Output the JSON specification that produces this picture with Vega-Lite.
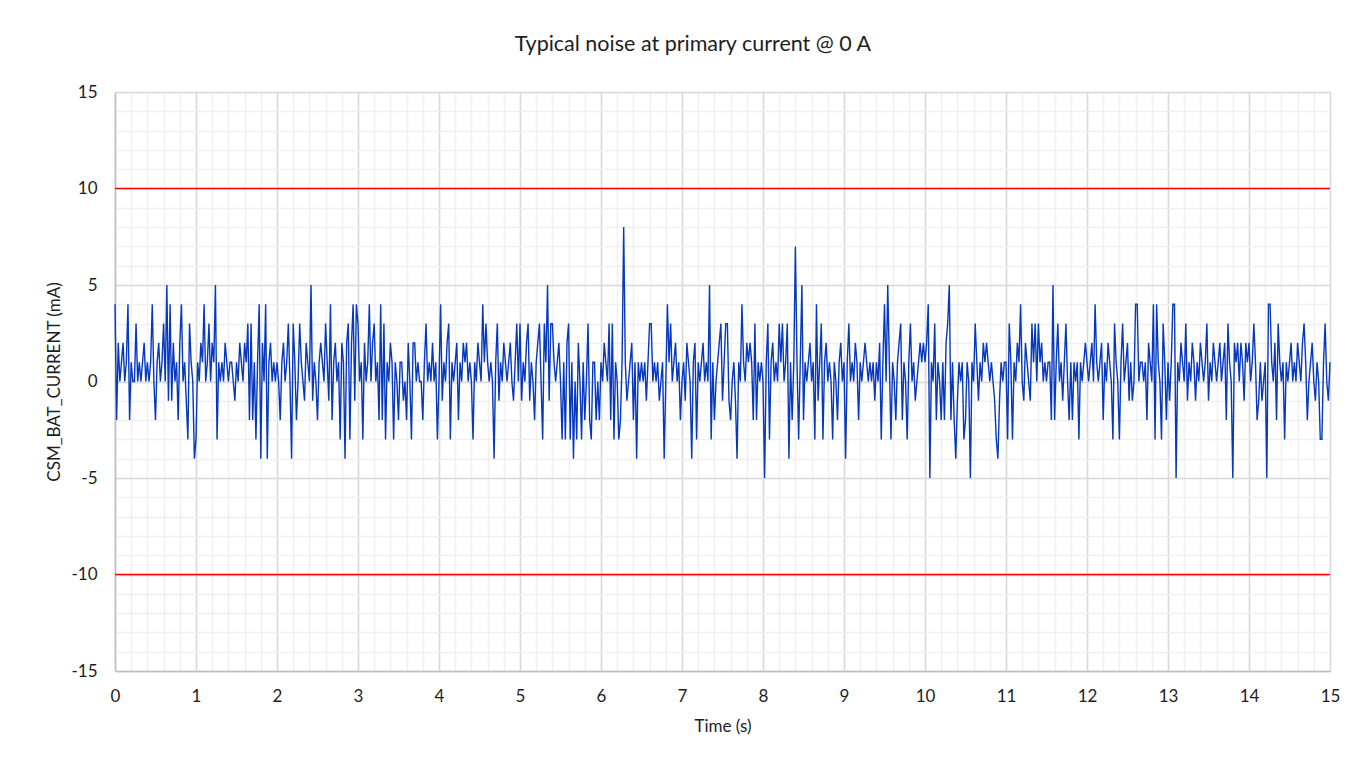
{
"$schema": "https://vega.github.io/schema/vega-lite/v6.json",
"width": 1215,
"height": 579,
"autosize": {"type": "none"},
"padding": {"left": 115, "top": 92, "right": 30, "bottom": 93},
"background": "white",
"config": {"view": {"stroke": null}, "font": "Lato"},
"title": {"text": "Typical noise at primary current @ 0 A", "fontSize": 21.5, "fontWeight": "normal", "color": "#1e1e1e", "anchor": "middle", "frame": "bounds", "baseline": "alphabetic", "offset": 11},
"data": {"values": [
{"t":0,"v":4},{"t":0.02,"v":-2},{"t":0.04,"v":2},{"t":0.06,"v":0},{"t":0.08,"v":1},{"t":0.1,"v":2},{"t":0.12,"v":0},{"t":0.14,"v":1},{"t":0.16,"v":4},{"t":0.18,"v":-2},
{"t":0.2,"v":1},{"t":0.22,"v":0},{"t":0.24,"v":0},{"t":0.26,"v":3},{"t":0.28,"v":0},{"t":0.3,"v":1},{"t":0.32,"v":0},{"t":0.34,"v":1},{"t":0.36,"v":2},{"t":0.38,"v":0},
{"t":0.4,"v":1},{"t":0.42,"v":0},{"t":0.44,"v":1},{"t":0.46,"v":4},{"t":0.48,"v":0},{"t":0.5,"v":-2},{"t":0.52,"v":1},{"t":0.54,"v":2},{"t":0.56,"v":0},{"t":0.58,"v":1},
{"t":0.6,"v":3},{"t":0.62,"v":0},{"t":0.64,"v":5},{"t":0.66,"v":-1},{"t":0.68,"v":4},{"t":0.7,"v":-1},{"t":0.72,"v":2},{"t":0.74,"v":0},{"t":0.76,"v":1},{"t":0.78,"v":-2},
{"t":0.8,"v":2},{"t":0.82,"v":4},{"t":0.84,"v":0},{"t":0.86,"v":1},{"t":0.88,"v":-1},{"t":0.9,"v":-3},{"t":0.92,"v":3},{"t":0.94,"v":1},{"t":0.96,"v":0},{"t":0.98,"v":-4},
{"t":1,"v":-3},{"t":1.02,"v":1},{"t":1.04,"v":0},{"t":1.06,"v":2},{"t":1.08,"v":1},{"t":1.1,"v":4},{"t":1.12,"v":0},{"t":1.14,"v":1},{"t":1.16,"v":3},{"t":1.18,"v":0},
{"t":1.2,"v":2},{"t":1.22,"v":1},{"t":1.24,"v":5},{"t":1.26,"v":-3},{"t":1.28,"v":1},{"t":1.3,"v":0},{"t":1.32,"v":1},{"t":1.34,"v":0},{"t":1.36,"v":2},{"t":1.38,"v":1},
{"t":1.4,"v":0},{"t":1.42,"v":1},{"t":1.44,"v":1},{"t":1.46,"v":0},{"t":1.48,"v":-1},{"t":1.5,"v":1},{"t":1.52,"v":0},{"t":1.54,"v":2},{"t":1.56,"v":1},{"t":1.58,"v":0},
{"t":1.6,"v":2},{"t":1.62,"v":1},{"t":1.64,"v":3},{"t":1.66,"v":-2},{"t":1.68,"v":3},{"t":1.7,"v":-2},{"t":1.72,"v":1},{"t":1.74,"v":-3},{"t":1.76,"v":1},{"t":1.78,"v":4},
{"t":1.8,"v":-4},{"t":1.82,"v":2},{"t":1.84,"v":0},{"t":1.86,"v":4},{"t":1.88,"v":-4},{"t":1.9,"v":1},{"t":1.92,"v":2},{"t":1.94,"v":0},{"t":1.96,"v":1},{"t":1.98,"v":0},
{"t":2,"v":1},{"t":2.02,"v":0},{"t":2.04,"v":-2},{"t":2.06,"v":1},{"t":2.08,"v":2},{"t":2.1,"v":0},{"t":2.12,"v":1},{"t":2.14,"v":3},{"t":2.16,"v":0},{"t":2.18,"v":-4},
{"t":2.2,"v":3},{"t":2.22,"v":1},{"t":2.24,"v":-2},{"t":2.26,"v":0},{"t":2.28,"v":3},{"t":2.3,"v":1},{"t":2.32,"v":0},{"t":2.34,"v":-1},{"t":2.36,"v":2},{"t":2.38,"v":1},
{"t":2.4,"v":0},{"t":2.42,"v":5},{"t":2.44,"v":-1},{"t":2.46,"v":1},{"t":2.48,"v":0},{"t":2.5,"v":-2},{"t":2.52,"v":1},{"t":2.54,"v":2},{"t":2.56,"v":1},{"t":2.58,"v":0},
{"t":2.6,"v":3},{"t":2.62,"v":1},{"t":2.64,"v":-1},{"t":2.66,"v":4},{"t":2.68,"v":-2},{"t":2.7,"v":1},{"t":2.72,"v":2},{"t":2.74,"v":0},{"t":2.76,"v":1},{"t":2.78,"v":-3},
{"t":2.8,"v":2},{"t":2.82,"v":1},{"t":2.84,"v":-4},{"t":2.86,"v":2},{"t":2.88,"v":3},{"t":2.9,"v":-3},{"t":2.92,"v":2},{"t":2.94,"v":4},{"t":2.96,"v":-1},{"t":2.98,"v":4},
{"t":3,"v":3},{"t":3.02,"v":0},{"t":3.04,"v":1},{"t":3.06,"v":-3},{"t":3.08,"v":2},{"t":3.1,"v":0},{"t":3.12,"v":1},{"t":3.14,"v":4},{"t":3.16,"v":0},{"t":3.18,"v":2},
{"t":3.2,"v":3},{"t":3.22,"v":0},{"t":3.24,"v":1},{"t":3.26,"v":-2},{"t":3.28,"v":4},{"t":3.3,"v":-2},{"t":3.32,"v":3},{"t":3.34,"v":-3},{"t":3.36,"v":1},{"t":3.38,"v":0},
{"t":3.4,"v":2},{"t":3.42,"v":1},{"t":3.44,"v":-3},{"t":3.46,"v":1},{"t":3.48,"v":0},{"t":3.5,"v":-2},{"t":3.52,"v":1},{"t":3.54,"v":1},{"t":3.56,"v":-1},{"t":3.58,"v":0},
{"t":3.6,"v":-2},{"t":3.62,"v":2},{"t":3.64,"v":0},{"t":3.66,"v":-3},{"t":3.68,"v":2},{"t":3.7,"v":2},{"t":3.72,"v":0},{"t":3.74,"v":1},{"t":3.76,"v":0},{"t":3.78,"v":0},
{"t":3.8,"v":-2},{"t":3.82,"v":1},{"t":3.84,"v":3},{"t":3.86,"v":0},{"t":3.88,"v":1},{"t":3.9,"v":0},{"t":3.92,"v":2},{"t":3.94,"v":0},{"t":3.96,"v":1},{"t":3.98,"v":-3},
{"t":4,"v":0},{"t":4.02,"v":4},{"t":4.04,"v":-1},{"t":4.06,"v":1},{"t":4.08,"v":0},{"t":4.1,"v":2},{"t":4.12,"v":3},{"t":4.14,"v":-3},{"t":4.16,"v":1},{"t":4.18,"v":0},
{"t":4.2,"v":1},{"t":4.22,"v":2},{"t":4.24,"v":-2},{"t":4.26,"v":1},{"t":4.28,"v":0},{"t":4.3,"v":2},{"t":4.32,"v":1},{"t":4.34,"v":2},{"t":4.36,"v":0},{"t":4.38,"v":1},
{"t":4.4,"v":0},{"t":4.42,"v":-3},{"t":4.44,"v":1},{"t":4.46,"v":0},{"t":4.48,"v":2},{"t":4.5,"v":1},{"t":4.52,"v":0},{"t":4.54,"v":4},{"t":4.56,"v":1},{"t":4.58,"v":3},
{"t":4.6,"v":1},{"t":4.62,"v":0},{"t":4.64,"v":1},{"t":4.66,"v":0},{"t":4.68,"v":-4},{"t":4.7,"v":1},{"t":4.72,"v":3},{"t":4.74,"v":-1},{"t":4.76,"v":1},{"t":4.78,"v":0},
{"t":4.8,"v":2},{"t":4.82,"v":1},{"t":4.84,"v":0},{"t":4.86,"v":1},{"t":4.88,"v":2},{"t":4.9,"v":0},{"t":4.92,"v":-1},{"t":4.94,"v":1},{"t":4.96,"v":3},{"t":4.98,"v":0},
{"t":5,"v":3},{"t":5.02,"v":-1},{"t":5.04,"v":1},{"t":5.06,"v":0},{"t":5.08,"v":2},{"t":5.1,"v":3},{"t":5.12,"v":-1},{"t":5.14,"v":1},{"t":5.16,"v":0},{"t":5.18,"v":-2},
{"t":5.2,"v":1},{"t":5.22,"v":2},{"t":5.24,"v":3},{"t":5.26,"v":0},{"t":5.28,"v":-3},{"t":5.3,"v":3},{"t":5.32,"v":1},{"t":5.34,"v":5},{"t":5.36,"v":-1},{"t":5.38,"v":3},
{"t":5.4,"v":3},{"t":5.42,"v":1},{"t":5.44,"v":0},{"t":5.46,"v":1},{"t":5.48,"v":2},{"t":5.5,"v":0},{"t":5.52,"v":-3},{"t":5.54,"v":1},{"t":5.56,"v":-3},{"t":5.58,"v":2},
{"t":5.6,"v":3},{"t":5.62,"v":-3},{"t":5.64,"v":1},{"t":5.66,"v":-4},{"t":5.68,"v":0},{"t":5.7,"v":-3},{"t":5.72,"v":2},{"t":5.74,"v":0},{"t":5.76,"v":-3},{"t":5.78,"v":1},
{"t":5.8,"v":-2},{"t":5.82,"v":0},{"t":5.84,"v":3},{"t":5.86,"v":-2},{"t":5.88,"v":-3},{"t":5.9,"v":1},{"t":5.92,"v":1},{"t":5.94,"v":-2},{"t":5.96,"v":0},{"t":5.98,"v":-2},
{"t":6,"v":1},{"t":6.02,"v":0},{"t":6.04,"v":2},{"t":6.06,"v":1},{"t":6.08,"v":0},{"t":6.1,"v":3},{"t":6.12,"v":-2},{"t":6.14,"v":3},{"t":6.16,"v":-3},{"t":6.18,"v":1},
{"t":6.2,"v":0},{"t":6.22,"v":-3},{"t":6.24,"v":-2},{"t":6.26,"v":1},{"t":6.28,"v":8},{"t":6.3,"v":1},{"t":6.32,"v":-1},{"t":6.34,"v":0},{"t":6.36,"v":1},{"t":6.38,"v":2},
{"t":6.4,"v":-2},{"t":6.42,"v":1},{"t":6.44,"v":-4},{"t":6.46,"v":1},{"t":6.48,"v":0},{"t":6.5,"v":1},{"t":6.52,"v":0},{"t":6.54,"v":1},{"t":6.56,"v":-1},{"t":6.58,"v":1},
{"t":6.6,"v":3},{"t":6.62,"v":3},{"t":6.64,"v":0},{"t":6.66,"v":1},{"t":6.68,"v":0},{"t":6.7,"v":1},{"t":6.72,"v":-1},{"t":6.74,"v":0},{"t":6.76,"v":1},{"t":6.78,"v":-4},
{"t":6.8,"v":0},{"t":6.82,"v":4},{"t":6.84,"v":1},{"t":6.86,"v":3},{"t":6.88,"v":0},{"t":6.9,"v":1},{"t":6.92,"v":2},{"t":6.94,"v":0},{"t":6.96,"v":1},{"t":6.98,"v":-2},
{"t":7,"v":0},{"t":7.02,"v":1},{"t":7.04,"v":-1},{"t":7.06,"v":2},{"t":7.08,"v":1},{"t":7.1,"v":0},{"t":7.12,"v":-4},{"t":7.14,"v":1},{"t":7.16,"v":2},{"t":7.18,"v":-3},
{"t":7.2,"v":1},{"t":7.22,"v":0},{"t":7.24,"v":1},{"t":7.26,"v":2},{"t":7.28,"v":0},{"t":7.3,"v":1},{"t":7.32,"v":0},{"t":7.34,"v":5},{"t":7.36,"v":-3},{"t":7.38,"v":1},
{"t":7.4,"v":-2},{"t":7.42,"v":0},{"t":7.44,"v":1},{"t":7.46,"v":2},{"t":7.48,"v":3},{"t":7.5,"v":-1},{"t":7.52,"v":1},{"t":7.54,"v":3},{"t":7.56,"v":3},{"t":7.58,"v":-1},
{"t":7.6,"v":-2},{"t":7.62,"v":0},{"t":7.64,"v":1},{"t":7.66,"v":-1},{"t":7.68,"v":-4},{"t":7.7,"v":1},{"t":7.72,"v":0},{"t":7.74,"v":4},{"t":7.76,"v":1},{"t":7.78,"v":0},
{"t":7.8,"v":2},{"t":7.82,"v":1},{"t":7.84,"v":2},{"t":7.86,"v":1},{"t":7.88,"v":-2},{"t":7.9,"v":3},{"t":7.92,"v":-2},{"t":7.94,"v":1},{"t":7.96,"v":0},{"t":7.98,"v":1},
{"t":8,"v":0},{"t":8.02,"v":-5},{"t":8.04,"v":1},{"t":8.06,"v":3},{"t":8.08,"v":-3},{"t":8.1,"v":1},{"t":8.12,"v":2},{"t":8.14,"v":0},{"t":8.16,"v":1},{"t":8.18,"v":0},
{"t":8.2,"v":3},{"t":8.22,"v":1},{"t":8.24,"v":3},{"t":8.26,"v":0},{"t":8.28,"v":1},{"t":8.3,"v":3},{"t":8.32,"v":-4},{"t":8.34,"v":1},{"t":8.36,"v":-2},{"t":8.38,"v":1},
{"t":8.4,"v":7},{"t":8.42,"v":1},{"t":8.44,"v":-3},{"t":8.46,"v":1},{"t":8.48,"v":5},{"t":8.5,"v":-2},{"t":8.52,"v":1},{"t":8.54,"v":0},{"t":8.56,"v":1},{"t":8.58,"v":2},
{"t":8.6,"v":0},{"t":8.62,"v":1},{"t":8.64,"v":-3},{"t":8.66,"v":4},{"t":8.68,"v":-1},{"t":8.7,"v":1},{"t":8.72,"v":3},{"t":8.74,"v":-3},{"t":8.76,"v":1},{"t":8.78,"v":2},
{"t":8.8,"v":0},{"t":8.82,"v":1},{"t":8.84,"v":0},{"t":8.86,"v":-3},{"t":8.88,"v":1},{"t":8.9,"v":0},{"t":8.92,"v":-2},{"t":8.94,"v":1},{"t":8.96,"v":2},{"t":8.98,"v":0},
{"t":9,"v":1},{"t":9.02,"v":-4},{"t":9.04,"v":1},{"t":9.06,"v":3},{"t":9.08,"v":0},{"t":9.1,"v":1},{"t":9.12,"v":0},{"t":9.14,"v":2},{"t":9.16,"v":1},{"t":9.18,"v":-2},
{"t":9.2,"v":1},{"t":9.22,"v":0},{"t":9.24,"v":1},{"t":9.26,"v":2},{"t":9.28,"v":1},{"t":9.3,"v":0},{"t":9.32,"v":1},{"t":9.34,"v":0},{"t":9.36,"v":1},{"t":9.38,"v":-1},
{"t":9.4,"v":1},{"t":9.42,"v":0},{"t":9.44,"v":2},{"t":9.46,"v":-3},{"t":9.48,"v":1},{"t":9.5,"v":4},{"t":9.52,"v":0},{"t":9.54,"v":5},{"t":9.56,"v":1},{"t":9.58,"v":-3},
{"t":9.6,"v":1},{"t":9.62,"v":0},{"t":9.64,"v":-2},{"t":9.66,"v":1},{"t":9.68,"v":2},{"t":9.7,"v":3},{"t":9.72,"v":-2},{"t":9.74,"v":1},{"t":9.76,"v":0},{"t":9.78,"v":-3},
{"t":9.8,"v":1},{"t":9.82,"v":3},{"t":9.84,"v":0},{"t":9.86,"v":1},{"t":9.88,"v":-1},{"t":9.9,"v":0},{"t":9.92,"v":1},{"t":9.94,"v":2},{"t":9.96,"v":1},{"t":9.98,"v":2},
{"t":10,"v":1},{"t":10.02,"v":2},{"t":10.04,"v":4},{"t":10.06,"v":-5},{"t":10.08,"v":1},{"t":10.1,"v":0},{"t":10.12,"v":3},{"t":10.14,"v":-2},{"t":10.16,"v":1},{"t":10.18,"v":0},
{"t":10.2,"v":-2},{"t":10.22,"v":1},{"t":10.24,"v":-2},{"t":10.26,"v":2},{"t":10.28,"v":3},{"t":10.3,"v":5},{"t":10.32,"v":-2},{"t":10.34,"v":1},{"t":10.36,"v":-2},{"t":10.38,"v":-4},
{"t":10.4,"v":-1},{"t":10.42,"v":1},{"t":10.44,"v":0},{"t":10.46,"v":1},{"t":10.48,"v":-3},{"t":10.5,"v":-2},{"t":10.52,"v":1},{"t":10.54,"v":0},{"t":10.56,"v":-5},{"t":10.58,"v":1},
{"t":10.6,"v":0},{"t":10.62,"v":3},{"t":10.64,"v":1},{"t":10.66,"v":-1},{"t":10.68,"v":1},{"t":10.7,"v":0},{"t":10.72,"v":2},{"t":10.74,"v":1},{"t":10.76,"v":2},{"t":10.78,"v":1},
{"t":10.8,"v":0},{"t":10.82,"v":1},{"t":10.84,"v":0},{"t":10.86,"v":-1},{"t":10.88,"v":-3},{"t":10.9,"v":-4},{"t":10.92,"v":-1},{"t":10.94,"v":1},{"t":10.96,"v":0},{"t":10.98,"v":1},
{"t":11,"v":1},{"t":11.02,"v":-3},{"t":11.04,"v":3},{"t":11.06,"v":1},{"t":11.08,"v":-3},{"t":11.1,"v":1},{"t":11.12,"v":0},{"t":11.14,"v":2},{"t":11.16,"v":1},{"t":11.18,"v":4},
{"t":11.2,"v":0},{"t":11.22,"v":-1},{"t":11.24,"v":2},{"t":11.26,"v":1},{"t":11.28,"v":0},{"t":11.3,"v":-1},{"t":11.32,"v":3},{"t":11.34,"v":1},{"t":11.36,"v":3},{"t":11.38,"v":0},
{"t":11.4,"v":3},{"t":11.42,"v":1},{"t":11.44,"v":2},{"t":11.46,"v":0},{"t":11.48,"v":1},{"t":11.5,"v":0},{"t":11.52,"v":1},{"t":11.54,"v":1},{"t":11.56,"v":-2},{"t":11.58,"v":5},
{"t":11.6,"v":-2},{"t":11.62,"v":1},{"t":11.64,"v":3},{"t":11.66,"v":0},{"t":11.68,"v":1},{"t":11.7,"v":-1},{"t":11.72,"v":1},{"t":11.74,"v":3},{"t":11.76,"v":0},{"t":11.78,"v":-2},
{"t":11.8,"v":1},{"t":11.82,"v":-2},{"t":11.84,"v":1},{"t":11.86,"v":0},{"t":11.88,"v":1},{"t":11.9,"v":-3},{"t":11.92,"v":1},{"t":11.94,"v":0},{"t":11.96,"v":1},{"t":11.98,"v":2},
{"t":12,"v":1},{"t":12.02,"v":0},{"t":12.04,"v":1},{"t":12.06,"v":2},{"t":12.08,"v":0},{"t":12.1,"v":4},{"t":12.12,"v":1},{"t":12.14,"v":0},{"t":12.16,"v":1},{"t":12.18,"v":2},
{"t":12.2,"v":-2},{"t":12.22,"v":1},{"t":12.24,"v":0},{"t":12.26,"v":2},{"t":12.28,"v":1},{"t":12.3,"v":0},{"t":12.32,"v":-3},{"t":12.34,"v":3},{"t":12.36,"v":1},{"t":12.38,"v":0},
{"t":12.4,"v":-3},{"t":12.42,"v":1},{"t":12.44,"v":3},{"t":12.46,"v":0},{"t":12.48,"v":1},{"t":12.5,"v":2},{"t":12.52,"v":-1},{"t":12.54,"v":1},{"t":12.56,"v":-1},{"t":12.58,"v":0},
{"t":12.6,"v":4},{"t":12.62,"v":4},{"t":12.64,"v":0},{"t":12.66,"v":1},{"t":12.68,"v":1},{"t":12.7,"v":0},{"t":12.72,"v":1},{"t":12.74,"v":-2},{"t":12.76,"v":2},{"t":12.78,"v":1},
{"t":12.8,"v":0},{"t":12.82,"v":4},{"t":12.84,"v":-3},{"t":12.86,"v":4},{"t":12.88,"v":1},{"t":12.9,"v":0},{"t":12.92,"v":-3},{"t":12.94,"v":3},{"t":12.96,"v":1},{"t":12.98,"v":-2},
{"t":13,"v":1},{"t":13.02,"v":-1},{"t":13.04,"v":1},{"t":13.06,"v":4},{"t":13.08,"v":4},{"t":13.1,"v":-5},{"t":13.12,"v":1},{"t":13.14,"v":0},{"t":13.16,"v":2},{"t":13.18,"v":1},
{"t":13.2,"v":0},{"t":13.22,"v":3},{"t":13.24,"v":-1},{"t":13.26,"v":1},{"t":13.28,"v":0},{"t":13.3,"v":2},{"t":13.32,"v":1},{"t":13.34,"v":-1},{"t":13.36,"v":1},{"t":13.38,"v":0},
{"t":13.4,"v":2},{"t":13.42,"v":1},{"t":13.44,"v":0},{"t":13.46,"v":1},{"t":13.48,"v":3},{"t":13.5,"v":-1},{"t":13.52,"v":1},{"t":13.54,"v":0},{"t":13.56,"v":2},{"t":13.58,"v":1},
{"t":13.6,"v":0},{"t":13.62,"v":1},{"t":13.64,"v":2},{"t":13.66,"v":0},{"t":13.68,"v":1},{"t":13.7,"v":2},{"t":13.72,"v":-2},{"t":13.74,"v":3},{"t":13.76,"v":1},{"t":13.78,"v":0},
{"t":13.8,"v":-5},{"t":13.82,"v":2},{"t":13.84,"v":1},{"t":13.86,"v":2},{"t":13.88,"v":0},{"t":13.9,"v":2},{"t":13.92,"v":1},{"t":13.94,"v":-1},{"t":13.96,"v":2},{"t":13.98,"v":1},
{"t":14,"v":2},{"t":14.02,"v":0},{"t":14.04,"v":1},{"t":14.06,"v":3},{"t":14.08,"v":1},{"t":14.1,"v":-2},{"t":14.12,"v":-1},{"t":14.14,"v":1},{"t":14.16,"v":-1},{"t":14.18,"v":0},
{"t":14.2,"v":1},{"t":14.22,"v":-5},{"t":14.24,"v":4},{"t":14.26,"v":4},{"t":14.28,"v":1},{"t":14.3,"v":0},{"t":14.32,"v":2},{"t":14.34,"v":-2},{"t":14.36,"v":3},{"t":14.38,"v":1},
{"t":14.4,"v":0},{"t":14.42,"v":1},{"t":14.44,"v":-3},{"t":14.46,"v":1},{"t":14.48,"v":0},{"t":14.5,"v":1},{"t":14.52,"v":2},{"t":14.54,"v":0},{"t":14.56,"v":1},{"t":14.58,"v":0},
{"t":14.6,"v":2},{"t":14.62,"v":1},{"t":14.64,"v":0},{"t":14.66,"v":2},{"t":14.68,"v":3},{"t":14.7,"v":1},{"t":14.72,"v":-2},{"t":14.74,"v":0},{"t":14.76,"v":1},{"t":14.78,"v":2},
{"t":14.8,"v":0},{"t":14.82,"v":-1},{"t":14.84,"v":1},{"t":14.86,"v":0},{"t":14.88,"v":-3},{"t":14.9,"v":-3},{"t":14.92,"v":1},{"t":14.94,"v":3},{"t":14.96,"v":0},{"t":14.98,"v":-1},
{"t":15,"v":1}
]},
"layer": [
{
"mark": {"type": "line", "opacity": 0},
"encoding": {
"x": {"field": "t", "type": "quantitative", "scale": {"domain": [0, 15], "nice": false, "zero": false},
"axis": {"orient": "top", "values": [0,0.2,0.4,0.6,0.8,1,1.2,1.4,1.6,1.8,2,2.2,2.4,2.6,2.8,3,3.2,3.4,3.6,3.8,4,4.2,4.4,4.6,4.8,5,5.2,5.4,5.6,5.8,6,6.2,6.4,6.6,6.8,7,7.2,7.4,7.6,7.8,8,8.2,8.4,8.6,8.8,9,9.2,9.4,9.6,9.8,10,10.2,10.4,10.6,10.8,11,11.2,11.4,11.6,11.8,12,12.2,12.4,12.6,12.8,13,13.2,13.4,13.6,13.8,14,14.2,14.4,14.6,14.8,15], "grid": true, "gridColor": "#f0f0f0", "gridWidth": 1.5, "labels": false, "ticks": false, "domain": false, "title": null}},
"y": {"field": "v", "type": "quantitative", "scale": {"domain": [-15, 15], "nice": false, "zero": false},
"axis": {"orient": "right", "values": [-15,-14,-13,-12,-11,-10,-9,-8,-7,-6,-5,-4,-3,-2,-1,0,1,2,3,4,5,6,7,8,9,10,11,12,13,14,15], "grid": true, "gridColor": "#f0f0f0", "gridWidth": 1.5, "labels": false, "ticks": false, "domain": false, "title": null}}
}
},
{
"mark": {"type": "line", "color": "#0537bf", "strokeWidth": 1.4, "interpolate": "linear"},
"encoding": {
"x": {"field": "t", "type": "quantitative",
"axis": {"orient": "bottom", "values": [0,1,2,3,4,5,6,7,8,9,10,11,12,13,14,15], "grid": true, "gridColor": "#d9d9d9", "gridWidth": 1.5, "domain": true, "domainColor": "#bfbfbf", "domainWidth": 1.5, "ticks": false, "tickSize": 0, "labelFlush": false, "labelBound": false, "labelPadding": 17, "labelFontSize": 17, "labelColor": "#1e1e1e", "title": "Time (s)", "titleFontSize": 17, "titleFontWeight": "normal", "titleColor": "#1e1e1e", "titlePadding": 14}},
"y": {"field": "v", "type": "quantitative",
"axis": {"orient": "left", "values": [-15,-10,-5,0,5,10,15], "labelExpr": "datum.value < 0 ? '-' + abs(datum.value) : '' + datum.value", "grid": true, "gridColor": "#d9d9d9", "gridWidth": 1.5, "domain": true, "domainColor": "#bfbfbf", "domainWidth": 1.5, "ticks": false, "tickSize": 0, "labelFlush": false, "labelBound": false, "labelPadding": 18, "labelFontSize": 17, "labelColor": "#1e1e1e", "title": "CSM_BAT_CURRENT (mA)", "titleFontSize": 17, "titleFontWeight": "normal", "titleColor": "#1e1e1e", "titlePadding": 7}}
}
},
{
"data": {"values": [{"limit": 10}, {"limit": -10}]},
"mark": {"type": "rule", "color": "#ff0000", "strokeWidth": 1.6},
"encoding": {"y": {"field": "limit", "type": "quantitative", "axis": null}}
}
],
"resolve": {"axis": {"x": "independent", "y": "independent"}}
}
